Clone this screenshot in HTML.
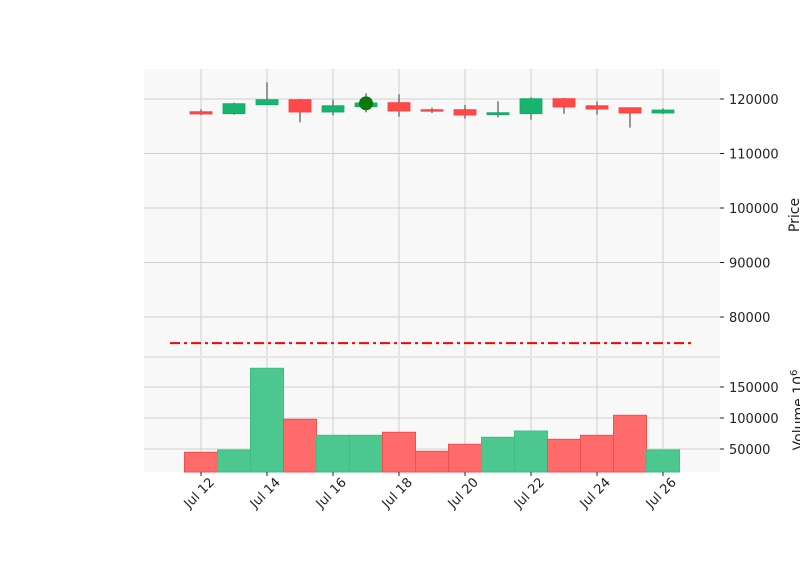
<!DOCTYPE html>
<html><head><meta charset="utf-8">
<style>
html,body{margin:0;padding:0;background:#fff;}
svg{display:block;font-family:"DejaVu Sans","Liberation Sans",sans-serif;}
</style></head>
<body>
<svg id="chart" width="800" height="575" viewBox="0 0 800 575" xmlns="http://www.w3.org/2000/svg">
<rect x="144" y="69" width="576" height="288" fill="#f8f8f8"/>
<rect x="144" y="357" width="576" height="115" fill="#f8f8f8"/>
<g id="grid"></g>
<g id="marks"></g>
<g id="axes"></g>
<text transform="translate(799,215) rotate(-90)" text-anchor="middle" font-size="14" fill="#222">Price</text>
<text transform="translate(803,410) rotate(-90)" text-anchor="middle" font-size="14" fill="#222">Volume  10<tspan dy="-6" font-size="10">6</tspan></text>
</svg>
<script>
const dates = ["Jul 12","Jul 13","Jul 14","Jul 15","Jul 16","Jul 17","Jul 18","Jul 19","Jul 20","Jul 21","Jul 22","Jul 23","Jul 24","Jul 25","Jul 26"];
const opens  = [117670,117300,118950,119870,117610,118600,119330,118040,118040,117130,117300,120060,118770,118400,117430];
const highs  = [118100,119320,123060,120000,119870,121050,120860,118400,118900,119580,120310,120180,119580,118400,118280];
const lows   = [117060,117120,118950,115720,116970,117560,116750,117430,116390,116640,116200,117300,117130,114740,117250];
const closes = [117250,119140,119870,117610,118770,119270,117800,117800,117060,117490,120060,118530,118160,117430,117980];
const volumes = [44700,48400,180200,97900,72100,72100,77000,46300,57600,68900,79000,65600,72100,104400,48400];
const priceTicks = [80000,90000,100000,110000,120000];
const volumeTicks = [50000,100000,150000];
const xTickIdx = [0,2,4,6,8,10,12,14];
const hlinePrice = 75200;
const markerIdx = 5, markerPrice = 119200;

const NS="http://www.w3.org/2000/svg";
const X = i => 201 + i*33;
const Y = p => 99 + (120000 - p)/1000*5.45;
const VY = v => 387 + (150000 - v)/1000*0.62;
function mk(tag, attrs, parent){const e=document.createElementNS(NS,tag);for(const k in attrs)e.setAttribute(k,attrs[k]);parent.appendChild(e);return e;}
const grid=document.getElementById('grid'), marks=document.getElementById('marks'), axes=document.getElementById('axes');

xTickIdx.forEach(i=>{
  const g1=mk('line',{x1:X(i),x2:X(i),y1:69,y2:472,stroke:'#d0d0d0','stroke-width':1},grid);
  
  
  const t=mk('line',{x1:X(i),x2:X(i),y1:472,y2:476,stroke:'#222','stroke-width':1},axes);
  
  
  const lb=mk('text',{transform:`translate(${X(i)+14},${483}) rotate(-45)`,'text-anchor':'end','font-size':13,fill:'#222'},axes);
  lb.textContent=dates[i];
  
  
});
priceTicks.forEach(p=>{
  const y=Y(p);
  const g=mk('line',{x1:144,x2:720,y1:y,y2:y,stroke:'#d0d0d0','stroke-width':1},grid);
  
  
  const t=mk('line',{x1:720,x2:724,y1:y,y2:y,stroke:'#222'},axes);
  
  
  const lb=mk('text',{x:729,y:y+5,'font-size':13,fill:'#222'},axes);
  lb.textContent=p;
  
  
});
volumeTicks.forEach(v=>{
  const y=VY(v);
  const g=mk('line',{x1:144,x2:720,y1:y,y2:y,stroke:'#d0d0d0','stroke-width':1},grid);
  
  
  const t=mk('line',{x1:720,x2:724,y1:y,y2:y,stroke:'#222'},axes);
  
  
  const lb=mk('text',{x:729,y:y+5,'font-size':13,fill:'#222'},axes);
  lb.textContent=v;
  
  
});
const sep=mk('line',{x1:144,x2:720,y1:357,y2:357,stroke:'#e6e6e6','stroke-width':2},grid);



dates.forEach((d,i)=>{
  const up=closes[i]>=opens[i];
  const vb=mk('rect',{x:X(i)-16.5,y:VY(volumes[i]),width:33,height:472-VY(volumes[i]),fill:up?'#4cc790':'#ff6b6b',stroke:up?'#3dbf85':'#f05050','stroke-width':1},marks);
  
  
  const w=mk('line',{x1:X(i),x2:X(i),y1:Y(highs[i]),y2:Y(lows[i]),stroke:'#555','stroke-width':1.2},marks);
  
  
  const top=Y(Math.max(opens[i],closes[i])), bot=Y(Math.min(opens[i],closes[i]));
  const b=mk('rect',{x:X(i)-11,y:top,width:22,height:Math.max(bot-top,1.5),fill:up?'#16b46e':'#ff4848',stroke:up?'#12a865':'#ff3a3a','stroke-width':0.8},marks);
  
  
});
const m=mk('circle',{cx:X(markerIdx),cy:Y(markerPrice),r:7,fill:'#0a7a0a'},marks);


const hl=mk('line',{x1:170,x2:692,y1:Y(hlinePrice),y2:Y(hlinePrice),stroke:'#ff0000','stroke-width':2,'stroke-dasharray':'10 4 3 4'},marks);


</script>
</body></html>
